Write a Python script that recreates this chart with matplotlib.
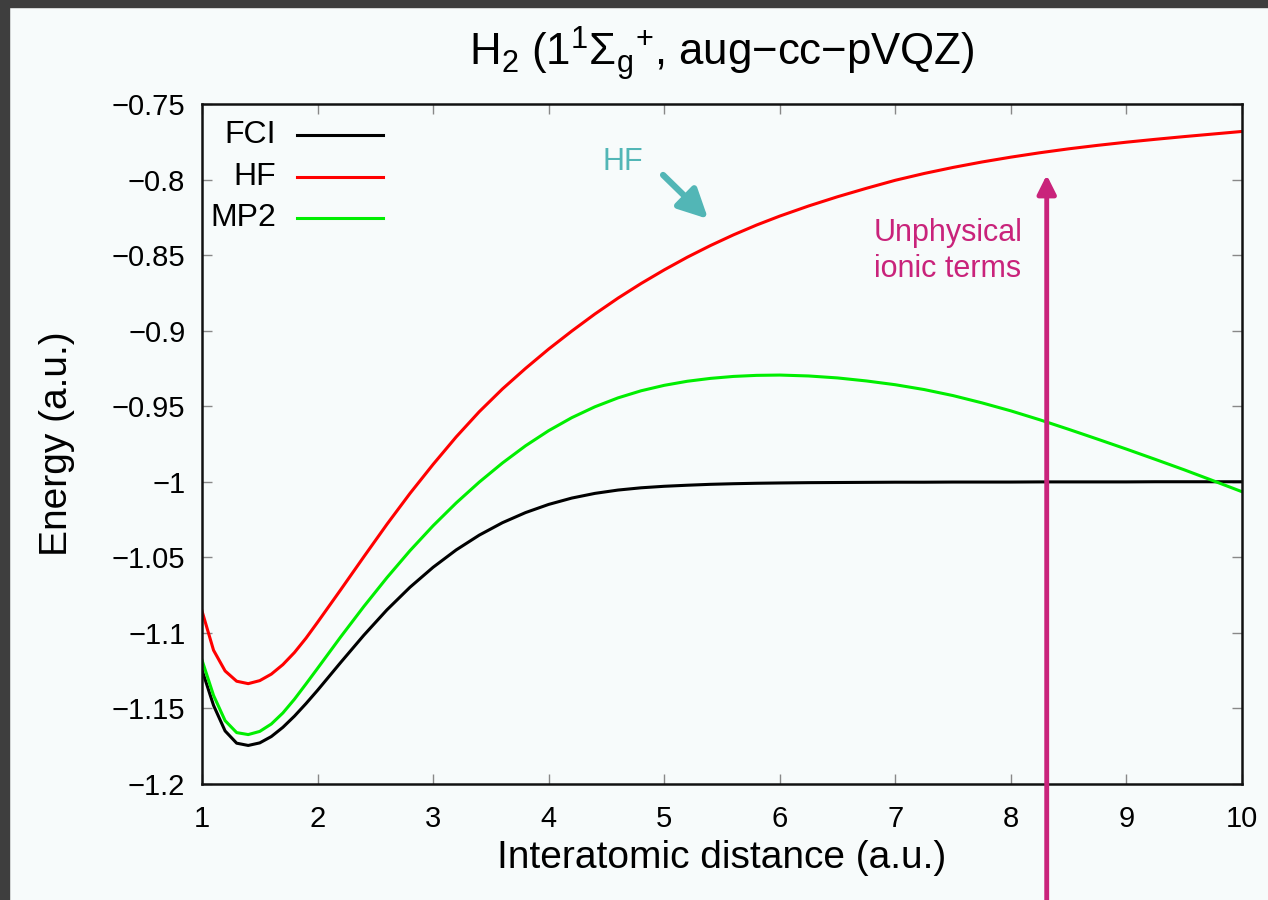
import matplotlib
matplotlib.use("Agg")
import matplotlib.pyplot as plt
from matplotlib.patches import Rectangle

# interatomic distance (a.u.) and energies (a.u.)
r = [1.0, 1.1, 1.2, 1.3, 1.4, 1.5, 1.6, 1.7, 1.8, 1.9, 2.0,
     2.2, 2.4, 2.6, 2.8, 3.0, 3.2, 3.4, 3.6, 3.8, 4.0,
     4.2, 4.4, 4.6, 4.8, 5.0, 5.2, 5.4, 5.6, 5.8, 6.0,
     6.25, 6.5, 6.75, 7.0, 7.25, 7.5, 7.75, 8.0,
     8.25, 8.5, 8.75, 9.0, 9.25, 9.5, 9.75, 10.0]

e_fci = [-1.1245, -1.1480, -1.1649, -1.1730, -1.1745, -1.1728, -1.1686, -1.1625, -1.1551, -1.1468, -1.1380,
         -1.1196, -1.1016, -1.0848, -1.0698, -1.0566, -1.0451, -1.0353, -1.0271, -1.0204, -1.0150,
         -1.0108, -1.0077, -1.0055, -1.0040, -1.0030, -1.0023, -1.0017, -1.0013, -1.0010, -1.0008,
         -1.0006, -1.0005, -1.0004, -1.0003, -1.0003, -1.0002, -1.0002, -1.0002,
         -1.0001, -1.0001, -1.0001, -1.0001, -1.0000, -1.0000, -1.0000, -1.0000]

e_hf = [-1.0855, -1.1115, -1.1252, -1.1320, -1.1336, -1.1316, -1.1273, -1.1210, -1.1130, -1.1035, -1.0930,
        -1.0715, -1.0497, -1.0282, -1.0077, -0.9885, -0.9703, -0.9536, -0.9386, -0.9250, -0.9122,
        -0.9003, -0.8890, -0.8785, -0.8688, -0.8598, -0.8514, -0.8437, -0.8366, -0.8301, -0.8242,
        -0.8175, -0.8114, -0.8058, -0.8005, -0.7960, -0.7920, -0.7884, -0.7852,
        -0.7823, -0.7797, -0.7774, -0.7753, -0.7734, -0.7716, -0.7699, -0.7682]

e_mp2 = [-1.1180, -1.1414, -1.1581, -1.1660, -1.1673, -1.1652, -1.1603, -1.1530, -1.1439, -1.1338, -1.1235,
         -1.1027, -1.0826, -1.0635, -1.0456, -1.0291, -1.0140, -1.0002, -0.9876, -0.9762, -0.9662,
         -0.9576, -0.9504, -0.9445, -0.9398, -0.9362, -0.9335, -0.9316, -0.9303, -0.9296, -0.9294,
         -0.9300, -0.9313, -0.9333, -0.9358, -0.9390, -0.9430, -0.9478, -0.9531,
         -0.9590, -0.9653, -0.9718, -0.9784, -0.9852, -0.9921, -0.9993, -1.0066]

series = [("FCI", e_fci, "black"), ("HF", e_hf, "#ff0000"), ("MP2", e_mp2, "#00ee00")]

xticks = [1, 2, 3, 4, 5, 6, 7, 8, 9, 10]
yticks = [-1.2, -1.15, -1.1, -1.05, -1.0, -0.95, -0.9, -0.85, -0.8, -0.75]

plt.rcParams["font.family"] = ["Liberation Sans", "DejaVu Sans"]
plt.rcParams["mathtext.fontset"] = "custom"
plt.rcParams["mathtext.rm"] = "Liberation Sans"
plt.rcParams["mathtext.it"] = "Liberation Sans:italic"

bg = "#f7fbfb"
fig = plt.figure(figsize=(12.68, 9), dpi=100, facecolor=bg)
ax = fig.add_axes([0.1593, 0.1289, 0.8202, 0.7556])
ax.set_facecolor(bg)

# dark screenshot border (top and left)
fig.patches.append(Rectangle((0, 1 - 7 / 900), 1, 7 / 900, transform=fig.transFigure,
                             color="#3e3e3e", zorder=0))
fig.patches.append(Rectangle((0, 0), 9 / 1268, 1, transform=fig.transFigure,
                             color="#3e3e3e", zorder=0))

for name, vals, col in series:
    ax.plot(r, vals, color=col, lw=2.2)

ax.set_xlim(1, 10)
ax.set_ylim(-1.2, -0.75)
ax.set_xticks(xticks)
ax.set_yticks(yticks)
ax.set_xticklabels([str(t) for t in xticks])
ax.set_yticklabels([f"{t:g}".replace("-", "\u2212") for t in yticks])
ax.tick_params(direction="in", length=7, width=1, color="#888888",
               top=True, right=True, labelsize=21)
ax.tick_params(axis="x", pad=15)
ax.tick_params(axis="y", pad=12)
for s in ax.spines.values():
    s.set_linewidth(1.8)
    s.set_color("#111111")

ax.set_xlabel("Interatomic distance (a.u.)", fontsize=28)
ax.set_ylabel("Energy (a.u.)", fontsize=28)
ax.xaxis.set_label_coords(0.5, -0.083)
ax.yaxis.set_label_coords(-0.122, 0.5)
ax.set_title("H$_2$ (1$^1\\Sigma_\\mathrm{g}{}^{+}$, aug\u2212cc\u2212pVQZ)",
             fontsize=31.5, pad=28)

# legend: right-aligned labels, sample line on the right
for i, (name, vals, col) in enumerate(series):
    y = 0.954 - i * 0.0608
    ax.text(0.0712, y, name, transform=ax.transAxes, ha="right", va="center", fontsize=23)
    ax.plot([0.0913, 0.174], [y, y], transform=ax.transAxes, color=col, lw=2.2)

# annotations
teal = "#52b6b6"
ax.text(4.64, -0.7884, "HF", color=teal, fontsize=22, ha="center", va="center")
ax.annotate("", xy=(5.38, -0.8261), xytext=(4.99, -0.797),
            arrowprops=dict(arrowstyle="-|>", color=teal, lw=4.5, mutation_scale=44,
                            shrinkA=0, shrinkB=0))

magenta = "#c9237b"
ax.text(7.455, -0.8473, "Unphysical\nionic terms", color=magenta, fontsize=22,
        ha="center", va="center", linespacing=1.3)
ax.annotate("", xy=(8.31, -0.797), xytext=(8.31, -1.28), annotation_clip=False,
            arrowprops=dict(arrowstyle="-|>", color=magenta, lw=3.5, mutation_scale=28,
                            shrinkA=0, shrinkB=0))

fig.savefig("out.png", dpi=100, facecolor=bg)
